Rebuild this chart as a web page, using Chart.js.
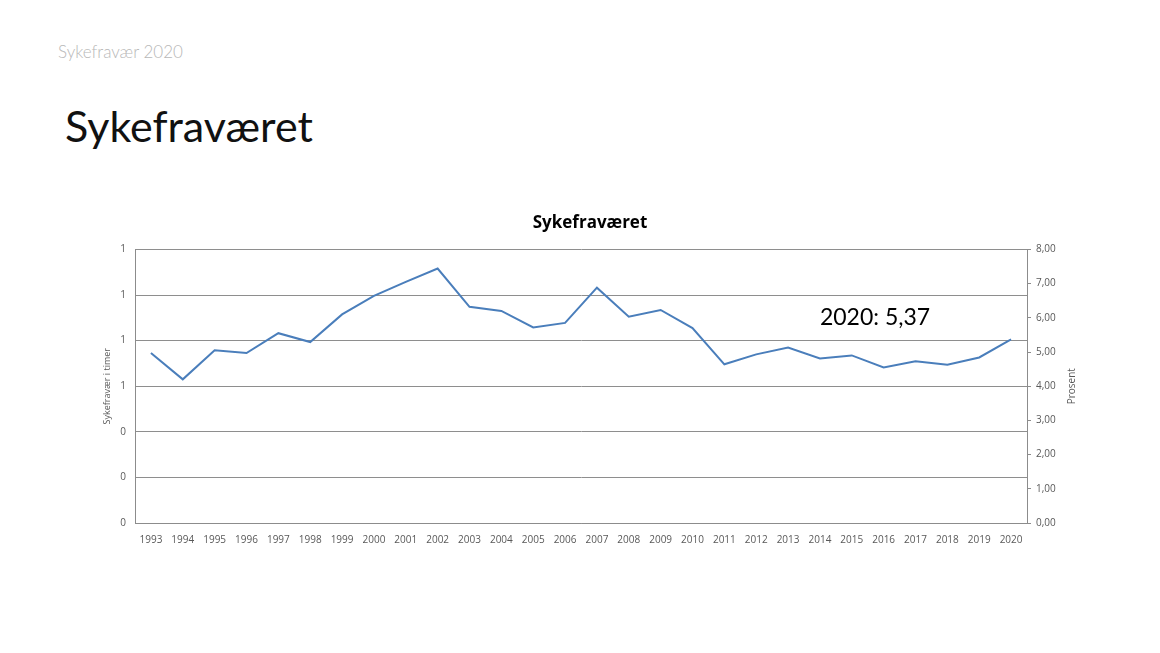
<!DOCTYPE html>
<html>
<head>
<meta charset="utf-8">
<script src="https://cdn.jsdelivr.net/npm/chart.js@4"></script>
<style>
  body { margin:0; background:#fff; width:1160px; height:653px; position:relative; overflow:hidden; font-family:Lato, "Open Sans", sans-serif; }
  #topline { position:absolute; left:58px; top:41px; font-size:17px; color:#b8b8b8; font-weight:300; }
  #heading { position:absolute; left:65px; top:100px; font-size:43px; color:#111; font-weight:400; }
  #wrap { position:absolute; left:90px; top:202px; width:1000px; height:358px; }
</style>
</head>
<body>
<div id="topline">Sykefravær 2020</div>
<div id="heading">Sykefraværet</div>
<div id="wrap"><canvas id="sykefravar_chart"></canvas></div>
<script>
// aarene langs x-aksen
const years = ['1993','1994','1995','1996','1997','1998','1999','2000','2001','2002','2003','2004','2005','2006',
  '2007','2008','2009','2010','2011','2012','2013','2014','2015','2016','2017','2018','2019','2020'];
// sykefravaer i prosent, lest av figuren
const prosent = [4.97, 4.20, 5.05, 4.97, 5.55, 5.29, 6.10, 6.64, 7.05, 7.44, 6.32, 6.20, 5.72, 5.85,
  6.88, 6.03, 6.23, 5.70, 4.64, 4.93, 5.13, 4.81, 4.90, 4.55, 4.73, 4.63, 4.84, 5.37];
// venstre akse (timer) og hoyre akse (prosent)
const timerTicks = [0, 0.2, 0.4, 0.6, 0.8, 1.0, 1.2];
const prosentTicks = [0, 1, 2, 3, 4, 5, 6, 7, 8];
const labelText = '2020: 5,37';

// skriver etiketten og aksetittelen paa hoyre side
const extraText = {
  id: 'extraText',
  afterDraw(chart) {
    const ctx = chart.ctx;
    const x = chart.scales.x, y = chart.scales.yRight;
    ctx.save();
    ctx.fillStyle = '#000';
    ctx.font = '23px Lato, "Open Sans", sans-serif';
    ctx.textAlign = 'left';
    ctx.textBaseline = 'middle';
    ctx.fillText(labelText, x.getPixelForValue(21), y.getPixelForValue(6.0));
    // "Prosent" leses nedenfra og opp
    ctx.translate(y.right - 18, (y.top + y.bottom) / 2);
    ctx.rotate(-Math.PI / 2);
    ctx.font = '10px "Open Sans", sans-serif';
    ctx.fillStyle = '#595959';
    ctx.textAlign = 'center';
    ctx.fillText('Prosent', 0, 0);
    ctx.restore();
  }
};

const config = {
  type: 'line',
  data: {
    labels: years,
    datasets: [{
      data: prosent,
      yAxisID: 'yRight',
      borderColor: '#4a7ebb',
      borderWidth: 2,
      pointRadius: 0,
      tension: 0,
      fill: false
    }]
  },
  options: {
    responsive: true,
    maintainAspectRatio: false,
    animation: false,
    layout: { padding: 0 },
    plugins: {
      legend: { display: false },
      tooltip: { enabled: false },
      title: {
        display: true,
        text: 'Sykefraværet',
        color: '#000',
        font: { family: '"Open Sans", sans-serif', size: 17, weight: 'bold' },
        padding: { top: 11, bottom: 16 }
      }
    },
    scales: {
      x: {
        offset: true,
        grid: { display: false, offset: true },
        border: { display: true, color: '#8c8c8c' },
        ticks: { color: '#595959', font: { family: '"Open Sans", sans-serif', size: 10 }, padding: 3, maxRotation: 0, autoSkip: false },
        afterFit(s) { s.height = 37; }
      },
      yLeft: {
        type: 'linear',
        position: 'left',
        min: 0, max: 1.2,
        afterBuildTicks(s) { s.ticks = timerTicks.map(v => ({ value: v })); },
        grid: { color: '#8e8e8e', drawTicks: false },
        border: { color: '#8c8c8c' },
        ticks: {
          color: '#595959',
          font: { family: '"Open Sans", sans-serif', size: 10 },
          padding: 9,
          callback: v => Math.round(v).toString()
        },
        title: {
          display: true,
          text: 'Sykefravær i timer',
          color: '#595959',
          font: { family: '"Open Sans", sans-serif', size: 9 },
          padding: { top: 12, bottom: 0 }
        },
        afterFit(s) { s.width = 45; }
      },
      yRight: {
        type: 'linear',
        position: 'right',
        min: 0, max: 8,
        afterBuildTicks(s) { s.ticks = prosentTicks.map(v => ({ value: v })); },
        grid: { drawOnChartArea: false, color: '#8c8c8c', tickLength: 4 },
        border: { color: '#8c8c8c' },
        ticks: {
          color: '#595959',
          font: { family: '"Open Sans", sans-serif', size: 10 },
          padding: 5,
          callback: v => v.toFixed(2).replace('.', ',')
        },
        afterFit(s) { s.width = 63; }
      }
    }
  },
  plugins: [extraText]
};

var myChart = new Chart(document.getElementById('sykefravar_chart'), config);
</script>
</body>
</html>
